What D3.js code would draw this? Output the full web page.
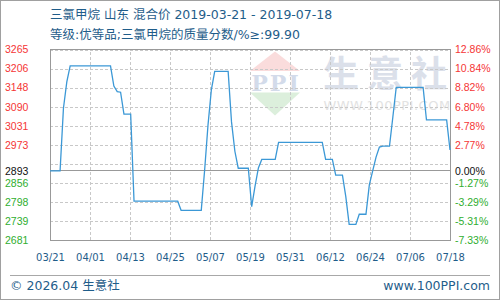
<!DOCTYPE html>
<html>
<head>
    <meta charset="UTF-8">
    <title>三氯甲烷 山东 混合价</title>
    <script src="https://d3js.org/d3.v7.min.js"></script>
    <style>
        body { margin: 0; background: #fff; }
        svg { display: block; }
    </style>
</head>
<body>
    <svg id="chart" width="500" height="300"></svg>

    <script>
        // price series (key points)
        const dates = [
            "2019-03-21", "2019-03-24", "2019-03-25", "2019-03-26", "2019-03-27",
            "2019-04-08", "2019-04-09", "2019-04-10", "2019-04-11", "2019-04-12",
            "2019-04-14", "2019-04-15", "2019-04-28", "2019-04-29", "2019-05-05",
            "2019-05-06", "2019-05-07", "2019-05-08", "2019-05-09", "2019-05-13",
            "2019-05-14", "2019-05-15", "2019-05-16", "2019-05-19", "2019-05-20",
            "2019-05-21", "2019-05-22", "2019-05-23", "2019-05-27", "2019-05-28",
            "2019-06-10", "2019-06-11", "2019-06-13", "2019-06-14", "2019-06-16",
            "2019-06-17", "2019-06-18", "2019-06-20", "2019-06-21", "2019-06-23",
            "2019-06-24", "2019-06-25", "2019-06-26", "2019-06-27", "2019-06-28",
            "2019-06-30", "2019-07-01", "2019-07-02", "2019-07-10", "2019-07-11",
            "2019-07-17", "2019-07-18"
        ];
        const prices = [
            2893, 2893, 3085, 3166, 3215,
            3215, 3153, 3136, 3134, 3067,
            3067, 2800, 2800, 2772, 2772,
            2895, 3033, 3141, 3198, 3198,
            3043, 2953, 2901, 2901, 2783,
            2846, 2902, 2928, 2928, 2980,
            2980, 2928, 2928, 2880, 2880,
            2814, 2729, 2729, 2760, 2760,
            2850, 2893, 2935, 2966, 2969,
            2969, 3058, 3149, 3149, 3049,
            3049, 2957
        ];

        const basePrice = 2893;
        const yMin = 2681, yMax = 3265;
        const xLabels = ["03/21", "04/01", "04/13", "04/25", "05/07", "05/19", "05/31", "06/12", "06/24", "07/06", "07/18"];
        const leftLabels = ["2681", "2739", "2798", "2856", "", "2973", "3031", "3090", "3148", "3206", "3265"];
        const rightLabels = ["-7.33%", "-5.31%", "-3.29%", "-1.27%", "", "2.77%", "4.78%", "6.80%", "8.82%", "10.84%", "12.86%"];

        const titleText = "三氯甲烷 山东 混合价 2019-03-21 - 2019-07-18";
        const subText = "等级:优等品;三氯甲烷的质量分数/%≥:99.90";

        let svg = d3.select("svg#chart");
        let margin = { top: 49.5, right: 50, bottom: 60, left: 50 };
        let chartWidth = 500 - margin.left - margin.right;
        let chartHeight = 240 - margin.top;

        const parse = d3.timeParse("%Y-%m-%d");
        const data = dates.map((d, i) => ({ date: parse(d), price: prices[i] }));

        const xStart = parse(dates[0]), xEnd = parse(dates[dates.length - 1]);
        const xScale = d3.scaleTime().domain([xStart, xEnd]).range([0, chartWidth]);
        const yScale = d3.scaleLinear().domain([yMin, yMax]).range([chartHeight, 0]);

        // ticks at equal divisions of the date range
        const xTicks = d3.range(xLabels.length).map(i =>
            new Date(+xStart + i * (xEnd - xStart) / (xLabels.length - 1)));
        const yTicks = d3.range(leftLabels.length).map(i =>
            yMin + i * (yMax - yMin) / (leftLabels.length - 1));

        // outer frame
        svg.append("rect")
            .attr("x", 0.5).attr("y", 0.5).attr("width", 499).attr("height", 299)
            .attr("fill", "#fff").attr("stroke", "#a0a0a0");

        // titles
        svg.append("text").attr("x", 50).attr("y", 19)
            .style("font", "12.5px 'DejaVu Sans', 'Noto Sans CJK SC'")
            .attr("fill", "#1f5d8a").text(titleText);
        svg.append("text").attr("x", 50).attr("y", 39)
            .style("font", "12.5px 'DejaVu Sans', 'Noto Sans CJK SC'")
            .attr("fill", "#1f5d8a").text(subText);

        let chartArea = svg.append("g")
            .attr("transform", "translate(" + margin.left + "," + margin.top + ")");

        // watermark
        let wm = chartArea.append("g").attr("id", "watermark");
        wm.append("polygon").attr("points", "200,21.5 225,2 250,21.5").attr("fill", "#fadcdc");
        wm.append("text").attr("x", 226).attr("y", 41).attr("text-anchor", "middle")
            .style("font", "bold 22px 'DejaVu Serif', 'Liberation Serif'")
            .style("letter-spacing", "2px")
            .attr("fill", "#d3dbea").text("PPI");
        wm.append("polygon").attr("points", "200,43 250,43 225,66").attr("fill", "#dcefdc");
        wm.append("text").attr("x", 339).attr("y", 37).attr("text-anchor", "middle")
            .style("font", "bold 36px 'Noto Sans CJK SC'")
            .style("letter-spacing", "8px")
            .attr("fill", "#dbe0ea").text("生意社");
        wm.append("text").attr("x", 337).attr("y", 60).attr("text-anchor", "middle")
            .style("font", "13px 'DejaVu Sans'")
            .style("letter-spacing", "0.5px")
            .attr("fill", "#e2e2e2").text("WWW.100PPI.COM");

        // gridlines
        let yGrid = d3.axisLeft(yScale).tickValues(yTicks).tickSize(-chartWidth).tickFormat("");
        chartArea.append("g").attr("class", "y gridlines").call(yGrid);
        let xGrid = d3.axisBottom(xScale).tickValues(xTicks).tickSize(-chartHeight).tickFormat("");
        chartArea.append("g").attr("class", "x gridlines")
            .attr("transform", "translate(0," + chartHeight + ")").call(xGrid);
        chartArea.selectAll(".gridlines .domain").remove();
        chartArea.selectAll(".gridlines line")
            .attr("stroke", "#c8c8c8").attr("stroke-dasharray", "3,2")
            .attr("shape-rendering", "crispEdges");

        // base price line
        chartArea.append("line")
            .attr("x1", 0).attr("x2", chartWidth)
            .attr("y1", yScale(basePrice)).attr("y2", yScale(basePrice))
            .attr("stroke", "#999").attr("shape-rendering", "crispEdges");

        // plot frame
        chartArea.append("rect")
            .attr("x", 0).attr("y", 0).attr("width", chartWidth).attr("height", chartHeight)
            .attr("fill", "none").attr("stroke", "#999").attr("shape-rendering", "crispEdges");

        // left labels
        const labelColor = v => v > basePrice + 0.5 ? "#f53535" : (v < basePrice - 0.5 ? "#2fae2f" : "#111");
        let leftAxis = d3.axisLeft(yScale)
            .tickValues(yTicks.concat([basePrice]))
            .tickSize(0)
            .tickFormat(d => d === basePrice ? String(basePrice) : leftLabels[yTicks.indexOf(d)]);
        let leftG = chartArea.append("g").attr("class", "y axis").call(leftAxis);
        leftG.select(".domain").remove();
        leftG.selectAll("text")
            .attr("x", -45).attr("text-anchor", "start")
            .style("font", "10.5px 'Liberation Sans', Arial")
            .attr("fill", d => labelColor(d));

        let rightAxis = d3.axisRight(yScale)
            .tickValues(yTicks.concat([basePrice]))
            .tickSize(0)
            .tickFormat(d => d === basePrice ? "0.00%" : rightLabels[yTicks.indexOf(d)]);
        let rightG = chartArea.append("g").attr("class", "y axis right")
            .attr("transform", "translate(" + chartWidth + ",0)").call(rightAxis);
        rightG.select(".domain").remove();
        rightG.selectAll("text")
            .attr("x", 5).attr("text-anchor", "start")
            .style("font", "10.5px 'Liberation Sans', Arial")
            .attr("fill", d => labelColor(d));

        // x labels
        let bottomAxis = d3.axisBottom(xScale)
            .tickValues(xTicks).tickSize(0)
            .tickFormat((d, i) => xLabels[i]);
        let bottomG = chartArea.append("g").attr("class", "x axis")
            .attr("transform", "translate(0," + chartHeight + ")").call(bottomAxis);
        bottomG.select(".domain").remove();
        bottomG.selectAll("text")
            .attr("y", 20.5).attr("dy", 0)
            .style("font", "10px 'DejaVu Sans'")
            .attr("fill", "#1f5d8a");

        // price line
        let line = d3.line().x(d => xScale(d.date)).y(d => yScale(d.price));
        chartArea.append("path").datum(data)
            .attr("d", line)
            .attr("fill", "none")
            .attr("stroke", "#3b98d6")
            .attr("stroke-width", 1.3);

        // footer
        svg.append("line").attr("x1", 10).attr("x2", 490).attr("y1", 275.5).attr("y2", 275.5)
            .attr("stroke", "#a8a8a8");
        svg.append("text").attr("x", 10).attr("y", 290)
            .style("font", "12.5px 'DejaVu Sans', 'Noto Sans CJK SC'")
            .attr("fill", "#1f5d8a").text("© 2026.04 生意社");
        svg.append("text").attr("x", 490).attr("y", 290).attr("text-anchor", "end")
            .style("font", "12.5px 'DejaVu Sans'")
            .attr("fill", "#1f5d8a").text("www.100PPI.com");
    </script>
</body>
</html>
